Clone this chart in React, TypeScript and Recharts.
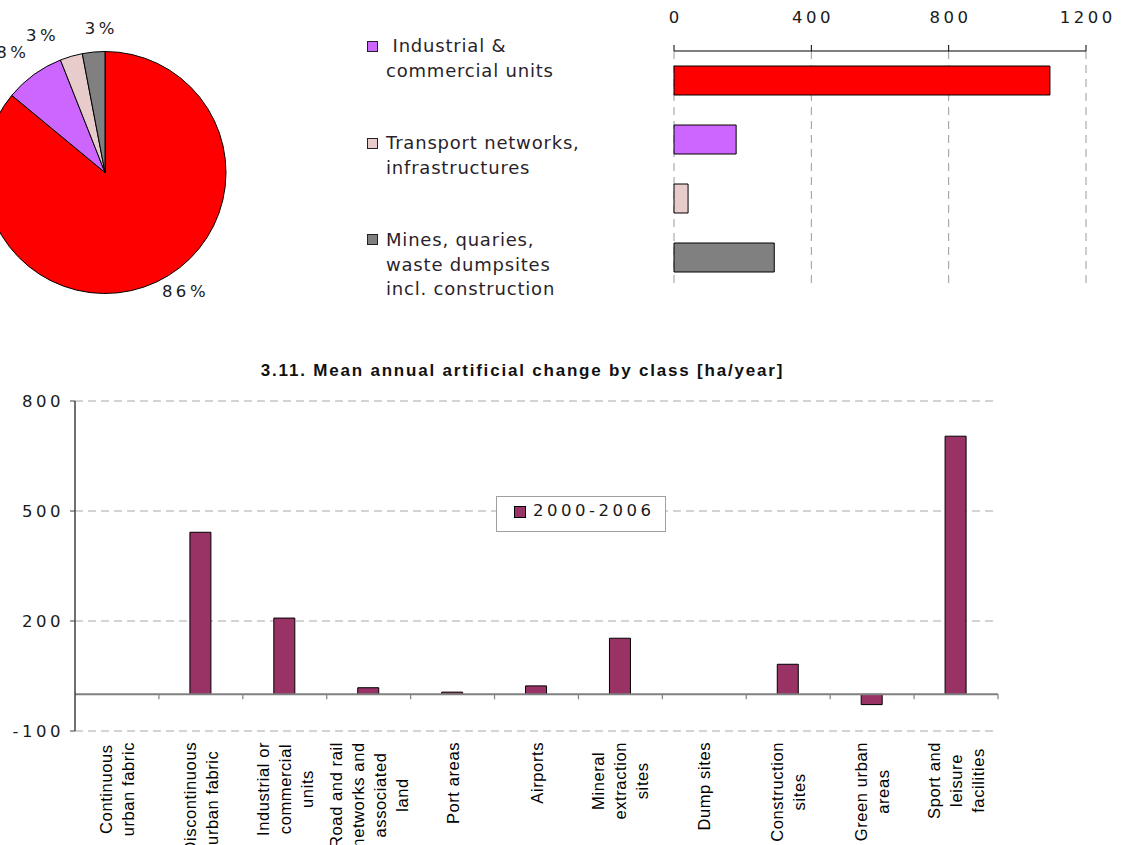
import { Bar, BarChart, CartesianGrid, Cell, Pie, PieChart, ReferenceLine, XAxis, YAxis } from "recharts"

// land take by driver: pie shares (%) and absolute amounts (bars)
const pieNames = [
  "Housing, services and recreation",
  "Industrial & commercial units",
  "Transport networks, infrastructures",
  "Mines, quaries, waste dumpsites incl. construction",
]
const piePercents = [86, 8, 3, 3]
const sliceColors = ["#ff0000", "#cc66ff", "#e8cccc", "#808080"]
const takeValues = [1095, 181, 41, 292]
const takeTicks = [0, 400, 800, 1200]

const legendLines = [
  [" Industrial &", "commercial units"],
  ["Transport networks,", "infrastructures"],
  ["Mines, quaries,", "waste dumpsites", "incl. construction"],
]

// 3.11 mean annual artificial change by class
const classLabels = [
  ["Continuous", "urban fabric"],
  ["Discontinuous", "urban fabric"],
  ["Industrial or", "commercial", "units"],
  ["Road and rail", "networks and", "associated", "land"],
  ["Port areas"],
  ["Airports"],
  ["Mineral", "extraction", "sites"],
  ["Dump sites"],
  ["Construction", "sites"],
  ["Green urban", "areas"],
  ["Sport and", "leisure", "facilities"],
]
const classValues = [0, 442, 208, 18, 6, 23, 153, 0, 82, -28, 704]
const classTicks = [-100, 200, 500, 800]
const seriesName = "2000-2006"
const chartTitle = "3.11. Mean annual artificial change by class [ha/year]"

const pieData = pieNames.map((name, i) => ({ name, value: piePercents[i] }))
const takeData = pieNames.map((name, i) => ({ name, value: takeValues[i] }))
const classData = classLabels.map((lines, i) => ({ name: lines.join(" "), value: classValues[i] }))
const linesByName: Record<string, string[]> = {}
classLabels.forEach((lines) => (linesByName[lines.join(" ")] = lines))

const numStyle = { fontFamily: "DejaVu Sans", fontSize: 16.5, letterSpacing: 3.5, fill: "#1a1a1a" }
const catStyle = { fontFamily: "Liberation Sans", fontSize: 16.5, letterSpacing: 0.6, fill: "#000" }

const ctx = typeof document !== "undefined" ? document.createElement("canvas").getContext("2d") : null
const textWidth = (s: string) => {
  if (!ctx) return s.length * 8.5
  ctx.font = "16.5px 'Liberation Sans'"
  return ctx.measureText(s).width + s.length * 0.6
}

const RAD = Math.PI / 180
// excel nudges the small labels apart
const labelShift = [8.2, 2.1, 8.9, -3.2]
const labelGap = [22, 31, 30, 23]

const renderPieLabel = (props: any) => {
  const { cx, cy, midAngle, outerRadius, index } = props
  const a = (midAngle + labelShift[index]) * RAD
  const r = outerRadius + labelGap[index]
  const x = cx + r * Math.cos(a)
  const y = cy - r * Math.sin(a)
  return (
    <text x={x + 1.75} y={y} textAnchor="middle" dominantBaseline="central" style={numStyle}>
      {piePercents[index]}%
    </text>
  )
}

const TopTick = ({ x, y, payload }: any) => (
  <text x={x + 1.75} y={y - 26} textAnchor="middle" dominantBaseline="central" style={numStyle}>
    {payload.value}
  </text>
)

const ValueTick = ({ x, y, payload }: any) => (
  <text x={x - 4} y={y} textAnchor="end" dominantBaseline="central" style={numStyle}>
    {payload.value}
  </text>
)

const ClassTick = ({ x, y, payload }: any) => {
  const lines = linesByName[payload.value] || [String(payload.value)]
  const len = Math.max(...lines.map(textWidth))
  return (
    <g transform={`translate(${x},${y + 3}) rotate(-90)`}>
      {lines.map((l, i) => (
        <text
          key={i}
          x={-len / 2}
          y={(i - (lines.length - 1) / 2) * 22}
          textAnchor="middle"
          dominantBaseline="central"
          style={catStyle}
        >
          {l}
        </text>
      ))}
    </g>
  )
}

const ZeroAxis = (props: any) => {
  const { x1, y1, x2 } = props
  const n = classData.length
  const step = (x2 - x1) / n
  return (
    <g>
      <line x1={x1} y1={y1} x2={x2} y2={y1} stroke="#808080" strokeWidth={2} />
      {classData.map((_, i) => (
        <line key={i} x1={x1 + step * (i + 1)} y1={y1} x2={x1 + step * (i + 1)} y2={y1 + 5} stroke="#808080" strokeWidth={1.2} />
      ))}
    </g>
  )
}

export default function App() {
  return (
    <div
      style={{
        position: "absolute",
        left: 0,
        top: 0,
        width: 1121,
        height: 845,
        overflow: "hidden",
        background: "#fff",
      }}
    >
      {/* bottom chart */}
      <div style={{ position: "absolute", left: 0, top: 350 }}>
        <BarChart width={1121} height={495} data={classData} margin={{ top: 51, right: 123, bottom: 100, left: 0 }}>
          <CartesianGrid vertical={false} stroke="#a8a8a8" strokeDasharray="8 5" />
          <XAxis dataKey="name" axisLine={false} tickLine={false} interval={0} height={14} tick={<ClassTick />} />
          <YAxis
            type="number"
            domain={[-100, 800]}
            ticks={classTicks}
            width={75}
            axisLine={{ stroke: "#404040", strokeWidth: 1.5 }}
            tickLine={{ stroke: "#404040" }}
            tickSize={5}
            tick={<ValueTick />}
          />
          <ReferenceLine y={0} shape={<ZeroAxis />} />
          <Bar dataKey="value" name={seriesName} fill="#993366" stroke="#000" strokeWidth={1} barSize={21} isAnimationActive={false} />
        </BarChart>
      </div>

      <div
        style={{
          position: "absolute",
          left: 0,
          width: 1045,
          top: 361,
          textAlign: "center",
          fontFamily: "Liberation Sans",
          fontWeight: "bold",
          fontSize: 17,
          letterSpacing: 1.8,
          lineHeight: "20px",
          color: "#111",
        }}
      >
        {chartTitle}
      </div>

      <div
        style={{
          position: "absolute",
          left: 496,
          top: 496,
          width: 170,
          height: 36,
          boxSizing: "border-box",
          border: "1px solid #a0a0a0",
          background: "#fff",
        }}
      >
        <div
          style={{
            position: "absolute",
            left: 17,
            top: 9,
            width: 10,
            height: 10,
            background: "#993366",
            border: "1px solid #000",
          }}
        />
        <div
          style={{
            position: "absolute",
            left: 36,
            top: 3,
            lineHeight: "22px",
            fontFamily: "DejaVu Sans",
            fontSize: 16.5,
            letterSpacing: 3.5,
            color: "#1a1a1a",
          }}
        >
          {seriesName}
        </div>
      </div>

      {/* pie */}
      <div style={{ position: "absolute", left: -30, top: 0 }}>
        <PieChart width={300} height={320} margin={{ top: 0, right: 0, bottom: 0, left: 0 }}>
          <Pie
            data={pieData}
            dataKey="value"
            cx={135}
            cy={172.5}
            outerRadius={121}
            startAngle={90}
            endAngle={-270}
            stroke="#000"
            strokeWidth={1}
            label={renderPieLabel}
            labelLine={false}
            isAnimationActive={false}
          >
            {pieData.map((d, i) => (
              <Cell key={d.name} fill={sliceColors[i]} />
            ))}
          </Pie>
        </PieChart>
      </div>

      {/* legend */}
      <div style={{ position: "absolute", left: 367, top: 34.3 }}>
        {legendLines.map((lines, i) => (
          <div key={i} style={{ position: "relative", height: lines.length * 24.7, marginBottom: 47.5 }}>
            <div
              style={{
                position: "absolute",
                left: 0,
                top: 6.4,
                width: 9,
                height: 9,
                background: sliceColors[i + 1],
                border: "1.5px solid #222",
              }}
            />
            {lines.map((l, j) => (
              <div
                key={j}
                style={{
                  marginLeft: 19,
                  height: 24.7,
                  lineHeight: "24.7px",
                  whiteSpace: "pre",
                  fontFamily: "DejaVu Sans",
                  fontSize: 18,
                  letterSpacing: 0.8,
                  color: "#2a1f2a",
                }}
              >
                {l}
              </div>
            ))}
          </div>
        ))}
      </div>

      {/* horizontal bars */}
      <div style={{ position: "absolute", left: 620, top: 0 }}>
        <BarChart width={500} height={300} data={takeData} layout="vertical" margin={{ top: 0, right: 34, bottom: 13, left: 54 }}>
          <CartesianGrid horizontal={false} stroke="#999" strokeDasharray="8 6" />
          <XAxis
            type="number"
            orientation="top"
            domain={[0, 1200]}
            ticks={takeTicks}
            height={51}
            axisLine={{ stroke: "#000" }}
            tickLine={{ stroke: "#000" }}
            tickSize={6}
            tick={<TopTick />}
          />
          <YAxis type="category" dataKey="name" width={0} tick={false} tickLine={false} axisLine={{ stroke: "#808080", strokeWidth: 2 }} />
          <Bar dataKey="value" barSize={29} stroke="#000" strokeWidth={1} isAnimationActive={false}>
            {takeData.map((d, i) => (
              <Cell key={d.name} fill={sliceColors[i]} />
            ))}
          </Bar>
        </BarChart>
      </div>
    </div>
  )
}
